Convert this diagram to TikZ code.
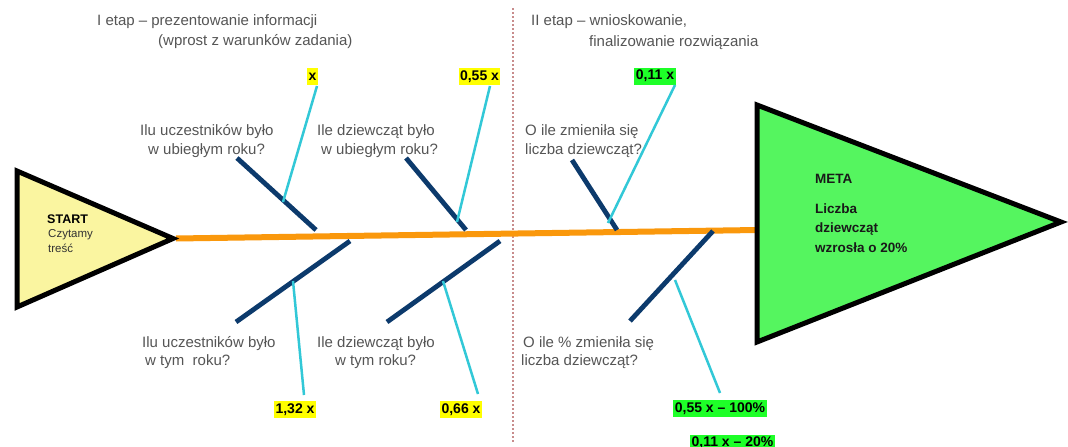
\documentclass[tikz,border=0pt]{standalone}
\usepackage{fontspec}
\setmainfont{Liberation Sans}
\definecolor{txtgray}{RGB}{85,85,85}
\definecolor{spineor}{RGB}{250,152,12}
\definecolor{navy}{RGB}{12,58,108}
\definecolor{cyanl}{RGB}{50,200,215}
\definecolor{startfill}{RGB}{250,245,160}
\definecolor{metafill}{RGB}{85,245,95}
\definecolor{labyel}{RGB}{255,255,0}
\definecolor{labgrn}{RGB}{30,255,40}
\definecolor{dotred}{RGB}{200,140,140}
\begin{document}
\begin{tikzpicture}[x=1pt,y=-1pt,
  gtxt/.style={anchor=base west, inner sep=0pt, text=txtgray, font=\fontsize{15}{18}\selectfont},
  lab/.style={font=\fontsize{14}{16}\selectfont\bfseries, inner sep=1.5pt, minimum height=17pt, text=black},
  yl/.style={lab, fill=labyel},
  gl/.style={lab, fill=labgrn},
  bone/.style={draw=navy, line width=4.8pt},
  feed/.style={draw=cyanl, line width=2.5pt},
  tri/.style={draw=black, line width=5pt, line join=miter},
]
\useasboundingbox (0,0) rectangle (1068,447);
\fill[white] (0,0) rectangle (1068,447);

% dotted stage divider
\coordinate (d0) at (513,8);
\coordinate (d1) at (513,442);
\draw[dotred, line width=1.5pt, dash pattern=on 2pt off 2pt] (d0) -- (d1);

% headers
\node[gtxt] (h1a) at (97,25.5) {I etap – prezentowanie informacji};
\node[gtxt] (h1b) at (158,45.5) {(wprost z warunków zadania)};
\node[gtxt] (h2a) at (531,25.5) {II etap – wnioskowanie,};
\node[gtxt] (h2b) at (589,46) {finalizowanie rozwiązania};

% spine
\coordinate (s0) at (176,238.5);
\coordinate (s1) at (757,230);
\draw[spineor, line width=6pt] (s0) -- (s1);

% triangles
\coordinate (ta) at (17,171);
\coordinate (tb) at (17,307);
\coordinate (tc) at (173,238.5);
\draw[tri, fill=startfill] (ta) -- (tc) -- (tb) -- cycle;
\coordinate (ma) at (757,105);
\coordinate (mb) at (757,342);
\coordinate (mc) at (1061,222);
\draw[tri, fill=metafill] (ma) -- (mc) -- (mb) -- cycle;

% START text
\node[anchor=base west, inner sep=0pt, font=\fontsize{12.5}{14}\selectfont\bfseries] (st) at (47,223) {START};
\node[anchor=base west, inner sep=0pt, text=black!80, font=\fontsize{11.5}{13}\selectfont] (st2) at (48,237.5) {Czytamy};
\node[anchor=base west, inner sep=0pt, text=black!80, font=\fontsize{11.5}{13}\selectfont] (st3) at (48,252.5) {treść};

% META text
\tikzset{mt/.style={anchor=base west, inner sep=0pt, text=black!90, font=\fontsize{13.5}{16}\selectfont\bfseries}}
\node[mt] (m1) at (815,183) {META};
\node[mt] (m2) at (815,213) {Liczba};
\node[mt] (m3) at (815,232) {dziewcząt};
\node[mt] (m4) at (815,252) {wzrosła o 20\%};

% bones
\coordinate (b1a) at (237,158); \coordinate (b1b) at (316,230);
\coordinate (b2a) at (350,241); \coordinate (b2b) at (236,322);
\coordinate (b3a) at (406,158); \coordinate (b3b) at (466,230);
\coordinate (b4a) at (500,241); \coordinate (b4b) at (387,322);
\coordinate (b5a) at (572,160); \coordinate (b5b) at (617,230);
\coordinate (b6a) at (713,231); \coordinate (b6b) at (630,321);
\draw[bone] (b1a) -- (b1b);
\draw[bone] (b2a) -- (b2b);
\draw[bone] (b3a) -- (b3b);
\draw[bone] (b4a) -- (b4b);
\draw[bone] (b5a) -- (b5b);
\draw[bone] (b6a) -- (b6b);

% questions
\node[gtxt] (q1a) at (140,135.5) {Ilu uczestników było};
\node[gtxt] (q1b) at (148,154.5) {w ubiegłym roku?};
\node[gtxt] (q2a) at (317,135.5) {Ile dziewcząt było};
\node[gtxt] (q2b) at (321,154.5) {w ubiegłym roku?};
\node[gtxt] (q3a) at (525,135.5) {O ile zmieniła się};
\node[gtxt] (q3b) at (525,154.5) {liczba dziewcząt?};
\node[gtxt] (q4a) at (142,347) {Ilu uczestników było};
\node[gtxt] (q4b) at (145,365.5) {w tym\ \ roku?};
\node[gtxt] (q5a) at (317,347) {Ile dziewcząt było};
\node[gtxt] (q5b) at (335,365.5) {w tym roku?};
\node[gtxt] (q6a) at (523,347) {O ile \% zmieniła się};
\node[gtxt] (q6b) at (521,365.5) {liczba dziewcząt?};

% value labels
\node[yl] (lx) at (312.5,76.5) {x};
\node[yl] (l055) at (479.5,76.5) {0,55 x};
\node[gl] (l011) at (655,76) {0,11 x};
\node[yl] (l132) at (295,409.5) {1,32 x};
\node[yl] (l066) at (461,409.5) {0,66 x};
\node[gl] (l100) at (720,408.5) {0,55 x – 100\%};
\node[gl] (l020) at (732.5,443) {0,11 x – 20\%};

% feeder lines
\coordinate (c1a) at (317,86);  \coordinate (c1b) at (283,202);
\coordinate (c2a) at (490,86);  \coordinate (c2b) at (457,222);
\coordinate (c3a) at (293,281); \coordinate (c3b) at (304,395);
\coordinate (c4a) at (443,281); \coordinate (c4b) at (478,394);
\coordinate (c5a) at (675,85);  \coordinate (c5b) at (608,223);
\coordinate (c6a) at (675,280); \coordinate (c6b) at (720,393);
\draw[feed] (c1a) -- (c1b);
\draw[feed] (c2a) -- (c2b);
\draw[feed] (c3a) -- (c3b);
\draw[feed] (c4a) -- (c4b);
\draw[feed] (c5a) -- (c5b);
\draw[feed] (c6a) -- (c6b);
\end{tikzpicture}
\end{document}
